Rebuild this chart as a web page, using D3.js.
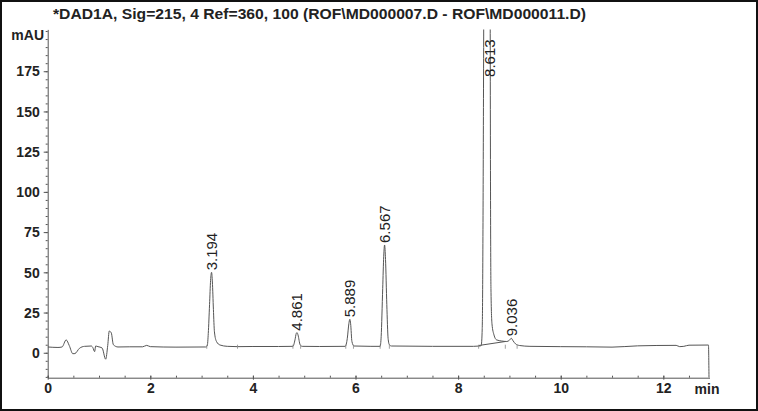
<!DOCTYPE html>
<html>
<head>
<meta charset="utf-8">
<script src="https://cdn.jsdelivr.net/npm/d3@7"></script>
<style>
  body { margin: 0; background: #fff; }
  text { font-family: "Liberation Sans", Arial, sans-serif; fill: #222; }
  .trace { fill: none; stroke: #555; stroke-width: 1; }
  .axis path, .axis line { stroke: #555; }
  .axis text { font-size: 14px; font-weight: bold; }
</style>
</head>
<body>
<div id="chart"></div>
<script>
var title = "*DAD1A, Sig=215, 4 Ref=360, 100 (ROF\\MD000007.D - ROF\\MD000011.D)";

// signal: [min, mAU]
var signal = [
  [0, 3.6], [0.2, 3.3], [0.28, 3.6], [0.36, 8], [0.42, 4.5], [0.49, -0.6], [0.53, -0.5],
  [0.62, 2.8], [0.72, 4], [0.85, 4.2], [0.88, 3.2], [0.915, 0.7], [0.935, 4.2], [0.98, 3.8],
  [1.06, 3], [1.13, -4], [1.17, 4.5], [1.2, 13.5], [1.24, 12.3], [1.28, 5], [1.37, 3.6],
  [1.6, 3.7], [1.85, 3.7], [1.93, 4.6], [2.0, 3.8], [2.5, 3.5], [3.08, 3.6],
  [3.11, 4.2], [3.13, 12], [3.155, 30], [3.175, 45], [3.194, 50], [3.21, 44], [3.23, 27],
  [3.25, 13], [3.29, 7], [3.36, 4.8], [3.5, 4], [3.7, 3.8], [4.0, 3.9], [4.5, 3.9], [4.78, 4],
  [4.82, 8], [4.845, 12], [4.861, 12.5], [4.88, 11], [4.92, 5], [4.96, 4],
  [5.3, 3.9], [5.8, 4], [5.84, 9], [5.87, 18], [5.889, 20.8], [5.905, 18], [5.93, 7], [5.97, 4.2],
  [6.3, 4], [6.48, 4], [6.5, 10], [6.53, 40], [6.55, 60], [6.567, 67], [6.585, 58], [6.61, 30],
  [6.635, 9], [6.66, 5], [6.7, 4.2], [7.5, 4], [8.3, 4], [8.42, 4.2],
  [8.45, 4.5], [8.47, 15], [8.49, 120], [8.5, 220], [8.53, 900], [8.57, 1600], [8.61, 900],
  [8.625, 220], [8.64, 40], [8.66, 18], [8.7, 11], [8.75, 8], [8.85, 7.3], [8.95, 7],
  [9.0, 7.8], [9.036, 9], [9.07, 7.5], [9.12, 5.5], [9.2, 4.5], [9.4, 4], [10, 3.8],
  [10.5, 3.7], [11, 3.5], [11.5, 4.3], [12.25, 4.6], [12.32, 3.8], [12.4, 4], [12.5, 4.7],
  [12.88, 4.8], [12.89, -15.5]
];

var peakLabels = ["3.194", "4.861", "5.889", "6.567", "8.613", "9.036"];
var peakTimes = [3.194, 4.861, 5.889, 6.567, 8.613, 9.036];
var peakHeights = [50, 12.5, 20.8, 67, 1600, 9];

// integration start/stop marks
var peakMarks = [3.1, 3.7, 4.78, 4.93, 5.81, 5.96, 6.48, 6.66, 8.4, 8.92, 9.15];
var skimLine = [[8.4, 4.5], [8.92, 7]];

var xTicks = [0, 2, 4, 6, 8, 10, 12];
var yTicks = [0, 25, 50, 75, 100, 125, 150, 175];

/***Sizes***/
var W = 758, H = 411;
var x0 = 47.7, x1 = 709.5, yTop = 29.4, yBot = 377.7;

var svg = d3.select("#chart")
            .append("svg")
            .attr("width", W)
            .attr("height", H);

/***Scales***/
var xScale = d3.scaleLinear()
               .domain([0, 12.9])
               .range([x0, x1]);
var yScale = d3.scaleLinear()
               .domain([-15.5, 201])
               .range([yBot, yTop]);

/***Frame***/
svg.append("rect")
   .attr("x", 1).attr("y", 1)
   .attr("width", W - 2).attr("height", H - 2)
   .attr("fill", "none")
   .attr("stroke", "#111")
   .attr("stroke-width", 2);

svg.append("text")
   .attr("x", 53)
   .attr("y", 18.5)
   .attr("textLength", 533)
   .attr("lengthAdjust", "spacingAndGlyphs")
   .style("font-size", "14.5px")
   .style("font-weight", "bold")
   .text(title);

/***Axes***/
var yMinor = d3.range(-15, 201, 5);
var xMinor = d3.range(0, 12.9, 0.5);

svg.append("g")
   .attr("class", "axis")
   .attr("transform", "translate(" + x0 + ",0)")
   .call(d3.axisLeft(yScale).tickValues(yMinor).tickSize(2).tickFormat(""))
   .select(".domain").remove();

svg.append("g")
   .attr("class", "axis")
   .attr("transform", "translate(" + x0 + ",0)")
   .call(d3.axisLeft(yScale).tickValues(yTicks).tickSize(4).tickPadding(4).tickSizeOuter(0))
   .selectAll("text").attr("dy", "0.34em");

svg.append("g")
   .attr("class", "axis")
   .attr("transform", "translate(0," + yBot + ")")
   .call(d3.axisBottom(xScale).tickValues(xMinor).tickSize(-2).tickFormat(""))
   .select(".domain").remove();

var xAxisG = svg.append("g")
   .attr("class", "axis")
   .attr("transform", "translate(0," + yBot + ")")
   .call(d3.axisBottom(xScale).tickValues(xTicks).tickSize(2).tickPadding(3).tickSizeOuter(0));
xAxisG.selectAll(".tick line").attr("y1", -2);

svg.append("text")
   .attr("x", 44)
   .attr("y", 39.5)
   .attr("text-anchor", "end")
   .style("font-size", "14px")
   .style("font-weight", "bold")
   .text("mAU");

svg.append("text")
   .attr("x", 707)
   .attr("y", 393.5)
   .attr("text-anchor", "middle")
   .style("font-size", "14px")
   .style("font-weight", "bold")
   .text("min");

/***Trace***/
svg.append("clipPath")
   .attr("id", "plotClip")
   .append("rect")
   .attr("x", x0).attr("y", yTop)
   .attr("width", x1 - x0 + 1).attr("height", yBot - yTop);

var line = d3.line()
             .curve(d3.curveMonotoneX)
             .x(function(d) { return xScale(d[0]); })
             .y(function(d) { return yScale(d[1]); });

svg.append("path")
   .datum(signal)
   .attr("class", "trace")
   .attr("clip-path", "url(#plotClip)")
   .attr("d", line);

svg.append("path")
   .datum(skimLine)
   .attr("class", "trace")
   .attr("d", d3.line().x(function(d) { return xScale(d[0]); }).y(function(d) { return yScale(d[1]); }));

svg.selectAll(".mark")
   .data(peakMarks)
   .enter()
   .append("line")
   .attr("class", "mark")
   .attr("x1", function(d) { return xScale(d); })
   .attr("x2", function(d) { return xScale(d); })
   .attr("y1", yScale(5))
   .attr("y2", yScale(2.5))
   .attr("stroke", "#888")
   .attr("stroke-width", 0.8);

/***Peak labels***/
svg.selectAll(".peak")
   .data(peakLabels)
   .enter()
   .append("text")
   .attr("class", "peak")
   .attr("transform", function(d, i) {
      var top = peakHeights[i] > 201;
      var y = top ? yTop + 10 : yScale(peakHeights[i]) - 2;
      return "translate(" + xScale(peakTimes[i]) + "," + y + ") rotate(-90)";
   })
   .attr("text-anchor", function(d, i) { return peakHeights[i] > 201 ? "end" : "start"; })
   .attr("dy", "0.36em")
   .style("font-size", "15px")
   .style("font-weight", "500")
   .text(function(d) { return d; });
</script>
</body>
</html>
